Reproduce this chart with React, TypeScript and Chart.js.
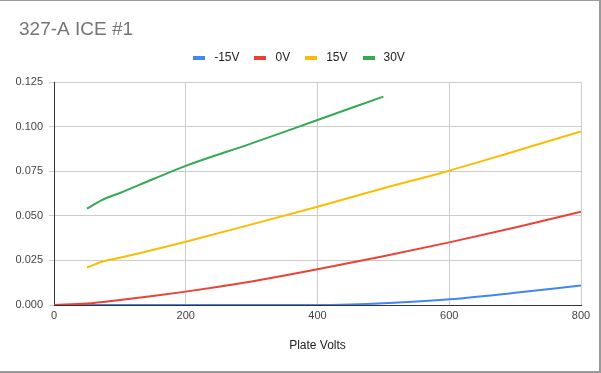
import React, { useEffect, useRef } from 'react';
import { Chart, registerables } from 'chart.js';

Chart.register(...registerables);

const FONT = "'Liberation Sans', Arial, sans-serif";

const seriesNames = ['-15V', '0V', '15V', '30V'];
const seriesColors = ['#4285f4', '#ea4335', '#fbbc04', '#34a853'];

const xNeg15 = [0, 100, 200, 300, 400, 450, 500, 600, 700, 800];
const yNeg15 = [0, 0, 0, 0, 0, 0.0003, 0.001, 0.0032, 0.0068, 0.011];

const xZero = [0, 50, 100, 150, 200, 250, 300, 350, 400, 500, 600, 700, 800];
const yZero = [0, 0.0008, 0.0028, 0.005, 0.0075, 0.0102, 0.0132, 0.0165, 0.02, 0.0273, 0.0351, 0.0434, 0.0523];

const xPos15 = [50, 75, 100, 200, 300, 400, 500, 600, 700, 800];
const yPos15 = [0.021, 0.0245, 0.0265, 0.0355, 0.0452, 0.0551, 0.0654, 0.0753, 0.0862, 0.0973];

const xPos30 = [50, 75, 100, 150, 200, 300, 400, 500];
const yPos30 = [0.054, 0.0592, 0.0628, 0.0705, 0.078, 0.0906, 0.1037, 0.1168];

const xTicksStep = 200;
const yTicksStep = 0.025;
const chartTitle = '327-A ICE #1';
const xAxisTitle = 'Plate Volts';

const seriesX = [xNeg15, xZero, xPos15, xPos30];
const seriesY = [yNeg15, yZero, yPos15, yPos30];

const customTitleLegend = {
  id: 'customTitleLegend',
  afterDraw(chart: any) {
    const ctx = chart.ctx as CanvasRenderingContext2D;
    ctx.save();
    // title
    ctx.font = `19px ${FONT}`;
    ctx.fillStyle = '#757575';
    ctx.textAlign = 'left';
    ctx.textBaseline = 'middle';
    ctx.fillText(chartTitle, 19, 29.5);
    // legend
    ctx.font = `12px ${FONT}`;
    const box = 12;
    const gapText = 9;
    const gapItem = 15;
    const widths = seriesNames.map((n) => ctx.measureText(n).width);
    const total = widths.reduce((a, w) => a + box + gapText + w, 0) + gapItem * (seriesNames.length - 1);
    let x = 299 - total / 2;
    const y = 58;
    seriesNames.forEach((n, i) => {
      ctx.fillStyle = seriesColors[i];
      ctx.fillRect(Math.round(x), y - 2, box, 4);
      ctx.fillStyle = '#222222';
      ctx.fillText(n, x + box + gapText, y);
      x += box + gapText + widths[i] + gapItem;
    });
    ctx.restore();
  },
};

export default function App() {
  const ref = useRef<HTMLCanvasElement | null>(null);

  useEffect(() => {
    if (!ref.current) return;
    const chart = new Chart(ref.current, {
      type: 'line',
      data: {
        datasets: seriesNames.map((name, i) => ({
          label: name,
          data: seriesX[i].map((x, j) => ({ x, y: seriesY[i][j] })),
          borderColor: seriesColors[i],
          backgroundColor: seriesColors[i],
          borderWidth: 2,
          pointRadius: 0,
          pointHoverRadius: 0,
          cubicInterpolationMode: 'monotone',
          fill: false,
          order: seriesNames.length - i,
        })),
      },
      options: {
        responsive: false,
        animation: false,
        layout: { padding: { left: 0, right: 20, top: 82, bottom: 0 } },
        plugins: {
          legend: { display: false },
          tooltip: { enabled: false },
          title: { display: false },
        },
        scales: {
          x: {
            type: 'linear',
            min: 0,
            max: 800,
            ticks: {
              stepSize: xTicksStep,
              color: '#444444',
              font: { family: FONT, size: 11 },
              padding: 4,
              maxRotation: 0,
            },
            grid: { color: '#cccccc', drawTicks: false },
            border: { color: '#333333', width: 1 },
            title: {
              display: true,
              text: xAxisTitle,
              color: '#222222',
              font: { family: FONT, size: 12 },
              padding: { top: 0, bottom: 19.8 },
            },
            afterFit: (scale: any) => {
              scale.height = 68;
            },
          },
          y: {
            type: 'linear',
            min: 0,
            max: 0.125,
            ticks: {
              stepSize: yTicksStep,
              color: '#444444',
              font: { family: FONT, size: 11 },
              padding: 6,
              callback: (v: any) => Number(v).toFixed(3),
            },
            grid: { color: '#cccccc', tickLength: 5 },
            border: { color: '#333333', width: 1 },
            afterFit: (scale: any) => {
              scale.width = 54;
            },
          },
        },
      },
      plugins: [customTitleLegend],
    } as any);
    return () => chart.destroy();
  }, []);

  return (
    <div style={{ position: 'fixed', left: 0, top: 0, width: 601, height: 373, background: '#ffffff' }}>
      <canvas ref={ref} width={601} height={373} style={{ width: 601, height: 373, display: 'block' }} />
      <div
        style={{
          position: 'absolute',
          left: 0,
          top: 0,
          width: 601,
          height: 373,
          boxSizing: 'border-box',
          borderTop: '1px solid #9a9a9a',
          borderRight: '2px solid #9a9a9a',
          borderBottom: '2px solid #9a9a9a',
          pointerEvents: 'none',
        }}
      />
    </div>
  );
}
